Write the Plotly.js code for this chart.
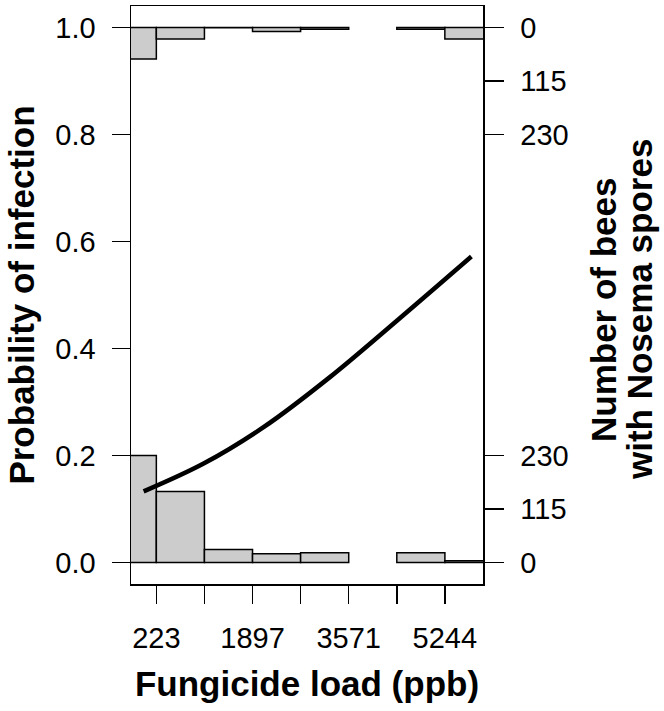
<!DOCTYPE html>
<html>
<head>
<meta charset="utf-8">
<script src="https://cdn.plot.ly/plotly-3.0.1.min.js"></script>
<style>
  html, body { margin: 0; padding: 0; background: #fff; }
  #chart { width: 664px; height: 711px; }
</style>
</head>
<body>
<div id="chart"></div>
<script>
// ===================== DATA =====================
// Histogram bins of fungicide load (ppb), lower edges and common width
const binStarts = [-614, 223, 1060, 1897, 2734, 3571, 4408, 5244];
const binWidth = 837;

// Bees per bin: not infected (drawn up from 0) and infected (drawn down from 1)
const countsUninfected = [230, 153, 28, 19, 21, 0, 21, 4];
const countsInfected   = [68, 25, 1, 9, 4, 0, 4, 25];

// Fitted probability of infection
const fitLoad = [2, 1046, 2089, 3249, 4409, 5706];
const fitProb = [0.133, 0.185, 0.253, 0.347, 0.452, 0.572];

// Axis ticks
const xTickVals = [223, 1060, 1897, 2734, 3571, 4408, 5244];
const xTickText = ['223', '', '1897', '', '3571', '', '5244'];
const countTicks = [0, 115, 230];

// 230 bees take up 0.2 on the probability axis
const countScale = 0.2 / 230;

// ===================== TRACES =====================
const binCenters = binStarts.map(b => b + binWidth / 2);

const barStyle = {
    color: '#cccccc',
    line: { color: 'black', width: 1.5 }
};

// empty bins draw nothing
const bottomBars = {
    type: 'bar',
    x: binCenters,
    y: countsUninfected.map(c => c === 0 ? null : c * countScale),
    base: 0,
    width: binWidth,
    marker: barStyle,
    hoverinfo: 'skip',
    showlegend: false
};

const topBars = {
    type: 'bar',
    x: binCenters,
    y: countsInfected.map(c => c === 0 ? null : -c * countScale),
    base: 1,
    width: binWidth,
    marker: barStyle,
    hoverinfo: 'skip',
    showlegend: false
};

const fitLine = {
    type: 'scatter',
    mode: 'lines',
    x: fitLoad,
    y: fitProb,
    line: { color: 'black', width: 4.5, shape: 'spline' },
    showlegend: false
};

// dummy trace so the right axis gets drawn
const rightAxisHolder = {
    type: 'scatter',
    mode: 'none',
    x: [fitLoad[0]],
    y: [0.5],
    yaxis: 'y2',
    hoverinfo: 'skip',
    showlegend: false
};

// right axis: counts measured from 0 (bottom) and from 1 (top)
const rightVals = [];
const rightText = [];
countTicks.forEach(c => { rightVals.push(c * countScale); rightText.push(String(c)); });
countTicks.forEach(c => { rightVals.push(1 - c * countScale); rightText.push(String(c)); });

// ===================== LAYOUT =====================
const yRange = [-0.04, 1.04];
const fontFamily = 'Liberation Sans, Arial, sans-serif';
const tickFont = { family: fontFamily, size: 29, color: 'black' };
const titleFont = { family: fontFamily, size: 35, color: 'black', weight: 'bold' };

const layout = {
    width: 664,
    height: 711,
    margin: { l: 131, r: 181, t: 6, b: 127 },
    paper_bgcolor: 'white',
    plot_bgcolor: 'white',
    barmode: 'overlay',
    bargap: 0,
    xaxis: {
        range: [-218, 5908],
        tickvals: xTickVals,
        ticktext: xTickText,
        ticks: 'outside',
        ticklen: 18,
        tickwidth: 1.5,
        tickcolor: 'black',
        ticklabelstandoff: 10,
        tickfont: tickFont,
        showgrid: false,
        zeroline: false,
        showline: true,
        mirror: true,
        linecolor: 'black',
        linewidth: 1.5,
        title: { text: '<b>Fungicide load (ppb)</b>', font: titleFont, standoff: 18 }
    },
    yaxis: {
        range: yRange,
        tickvals: [0, 0.2, 0.4, 0.6, 0.8, 1.0],
        ticktext: ['0.0', '0.2', '0.4', '0.6', '0.8', '1.0'],
        ticks: 'outside',
        ticklen: 18,
        tickwidth: 1.5,
        tickcolor: 'black',
        ticklabelstandoff: 10,
        tickfont: tickFont,
        showgrid: false,
        zeroline: false,
        showline: true,
        linecolor: 'black',
        linewidth: 1.5,
        title: { text: '<b>Probability of infection</b>', font: titleFont, standoff: 10 }
    },
    yaxis2: {
        overlaying: 'y',
        side: 'right',
        range: yRange,
        tickvals: rightVals,
        ticktext: rightText,
        ticks: 'outside',
        ticklen: 19,
        tickwidth: 1.5,
        tickcolor: 'black',
        ticklabelstandoff: 11,
        tickfont: tickFont,
        showgrid: false,
        zeroline: false,
        showline: true,
        linecolor: 'black',
        linewidth: 1.5
    },
    // right axis title, two lines set closer than a <br> would
    annotations: [
        {
            text: '<b>Number of bees</b>',
            xref: 'paper', yref: 'paper',
            x: (603 - 131) / 352, y: (584 - 310) / 578,
            xanchor: 'center', yanchor: 'middle',
            textangle: -90,
            showarrow: false,
            font: titleFont
        },
        {
            text: '<b>with Nosema spores</b>',
            xref: 'paper', yref: 'paper',
            x: (639 - 131) / 352, y: (584 - 310) / 578,
            xanchor: 'center', yanchor: 'middle',
            textangle: -90,
            showarrow: false,
            font: titleFont
        }
    ]
};

Plotly.newPlot('chart', [bottomBars, topBars, fitLine, rightAxisHolder], layout, { displayModeBar: false, staticPlot: true });
</script>
</body>
</html>
